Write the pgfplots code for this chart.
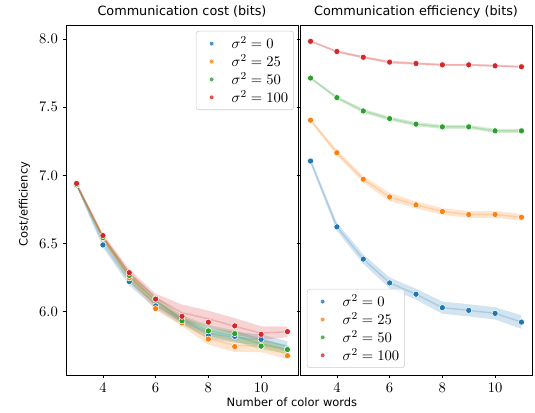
\documentclass[border=0pt]{standalone}
\usepackage{fontspec}
\setmainfont{DejaVu Sans}
\usepackage{pgfplots}
\usepackage{pgfplotstable}
\pgfplotsset{compat=1.18}
\usepgfplotslibrary{fillbetween}

\definecolor{tblue}{HTML}{1F77B4}
\definecolor{torange}{HTML}{FF7F0E}
\definecolor{tgreen}{HTML}{2CA02C}
\definecolor{tred}{HTML}{D62728}

% cost: dot value, band centre (m) and half width (w) per series
\pgfplotstableread{
x  b     bm    bw    o     om    ow    g     gm    gw    r     rm    rw
3  6.930 6.930 0.010 6.930 6.930 0.010 6.930 6.930 0.010 6.940 6.940 0.010
4  6.488 6.500 0.030 6.537 6.540 0.020 6.542 6.540 0.020 6.557 6.550 0.020
5  6.219 6.220 0.030 6.246 6.250 0.030 6.264 6.260 0.030 6.284 6.280 0.030
6  6.040 6.050 0.030 6.020 6.040 0.030 6.097 6.080 0.030 6.090 6.100 0.030
7  5.928 5.930 0.030 5.915 5.920 0.030 5.930 5.940 0.030 5.963 5.990 0.060
8  5.821 5.840 0.040 5.796 5.800 0.045 5.856 5.860 0.040 5.920 5.945 0.060
9  5.816 5.810 0.040 5.741 5.750 0.050 5.836 5.820 0.040 5.893 5.890 0.060
10 5.794 5.790 0.040 5.739 5.745 0.045 5.744 5.760 0.040 5.831 5.840 0.050
11 5.724 5.740 0.040 5.674 5.685 0.035 5.719 5.720 0.030 5.851 5.850 0.040
}\costdata

% efficiency: value and band half width per series
\pgfplotstableread{
x  b     bw    o     ow    g     gw    r     rw
3  7.105 0.020 7.405 0.010 7.715 0.008 7.985 0.006
4  6.621 0.030 7.166 0.020 7.571 0.012 7.910 0.008
5  6.384 0.035 6.971 0.025 7.473 0.015 7.868 0.010
6  6.209 0.040 6.841 0.030 7.417 0.015 7.832 0.010
7  6.126 0.040 6.783 0.025 7.376 0.015 7.822 0.010
8  6.027 0.045 6.734 0.025 7.356 0.015 7.812 0.008
9  6.007 0.045 6.712 0.025 7.356 0.015 7.812 0.008
10 5.985 0.045 6.712 0.025 7.327 0.015 7.805 0.008
11 5.921 0.050 6.692 0.025 7.327 0.015 7.798 0.008
}\effdata

% #1 table, #2 colour, #3 centre column, #4 half width column, #5 name
\newcommand{\band}[5]{%
  \addplot[draw=none, name path=lo#5, forget plot] table[x=x, y expr=\thisrow{#3}-\thisrow{#4}] {#1};
  \addplot[draw=none, name path=hi#5, forget plot] table[x=x, y expr=\thisrow{#3}+\thisrow{#4}] {#1};
  \addplot[fill=#2, fill opacity=0.2, draw=none, forget plot] fill between[of=lo#5 and hi#5];
  \addplot[#2, draw opacity=0.22, line width=1.1pt, forget plot] table[x=x, y=#3] {#1};
}
\newcommand{\pts}[3]{%
  \addplot[only marks, mark=*, mark size=2.3pt,
    mark options={fill=#2, draw=white, line width=0.4pt}] table[x=x, y=#3] {#1};
}

\pgfplotsset{
  every axis title/.style={at={(0.5,1)}, anchor=base, yshift=6.75pt},
  panel/.style={
    scale only axis, width=174pt, height=262.5pt,
    xmin=2.6, xmax=11.4, ymin=5.532, ymax=8.105,
    xtick={4,6,8,10}, ytick={6,6.5,7,7.5,8},
    tick align=outside, major tick length=2.6pt,
    xtick pos=bottom, ytick pos=left,
    axis line style={line width=0.6pt},
    tick style={line width=0.6pt, black},
    ticklabel style={font=\fontsize{10.5}{12}\selectfont},
    yticklabel style={/pgf/number format/.cd, fixed, fixed zerofill, precision=1},
    title style={font=\fontsize{9.6}{11}\selectfont},
    legend cell align=left,
    legend image code/.code={\path (0cm,0cm) (0.78cm,0cm);
      \draw[mark size=1.8pt] plot coordinates {(0.33cm,0cm)};},
    legend style={font=\fontsize{11}{13}\selectfont, draw=black!20, rounded corners=2pt,
      fill=white, fill opacity=0.8, text opacity=1, row sep=-1.2pt,
      inner xsep=2pt, inner ysep=2pt},
  }
}

\begin{document}
\begin{tikzpicture}
\begin{axis}[panel,
  title={Communication cost (bits)},
  ylabel={Cost/efficiency},
  ylabel style={font=\fontsize{8.6}{10}\selectfont, xshift=-3pt},
  xlabel={Number of color words},
  xlabel style={font=\fontsize{8.6}{10}\selectfont, at={(rel axis cs:0.974,0)}, anchor=base, yshift=-23.5pt},
  legend style={at={(0.982,0.983)}, anchor=north east},
]
\band{\costdata}{tblue}{bm}{bw}{cb}
\band{\costdata}{torange}{om}{ow}{co}
\band{\costdata}{tgreen}{gm}{gw}{cg}
\band{\costdata}{tred}{rm}{rw}{cr}
\pts{\costdata}{tblue}{b}
\pts{\costdata}{torange}{o}
\pts{\costdata}{tgreen}{g}
\pts{\costdata}{tred}{r}
\legend{$\sigma^2=0$, $\sigma^2=25$, $\sigma^2=50$, $\sigma^2=100$}
\end{axis}

\begin{axis}[panel, at={(175.5pt,0pt)},
  title={Communication efficiency (bits)},
  yticklabels={},
  legend style={at={(0.03,0.02)}, anchor=south west},
]
\band{\effdata}{tblue}{b}{bw}{eb}
\band{\effdata}{torange}{o}{ow}{eo}
\band{\effdata}{tgreen}{g}{gw}{eg}
\band{\effdata}{tred}{r}{rw}{er}
\pts{\effdata}{tblue}{b}
\pts{\effdata}{torange}{o}
\pts{\effdata}{tgreen}{g}
\pts{\effdata}{tred}{r}
\legend{$\sigma^2=0$, $\sigma^2=25$, $\sigma^2=50$, $\sigma^2=100$}
\end{axis}
\pgfresetboundingbox
\path[use as bounding box] (-49.5pt,-28.5pt) rectangle (351.75pt,281.25pt);
\end{tikzpicture}
\end{document}
